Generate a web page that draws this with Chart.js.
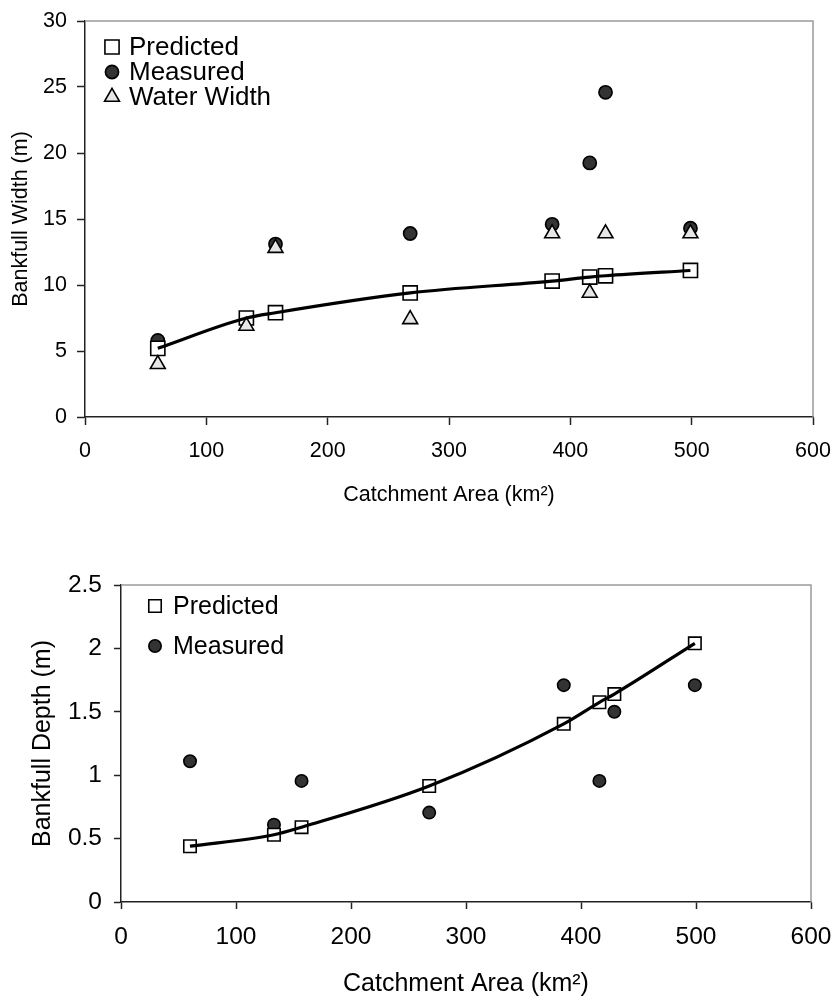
<!DOCTYPE html>
<html>
<head>
<meta charset="utf-8">
<script src="https://cdn.jsdelivr.net/npm/chart.js@4.4.1/dist/chart.umd.min.js"></script>
<style>
  body { margin: 0; background: #fff; }
  #wrap { position: relative; width: 835px; height: 997px; }
  .box { position: absolute; left: 0; width: 835px; }
  #topBox { top: 0; height: 510px; }
  #botBox { top: 510px; height: 487px; }
</style>
</head>
<body>
<div id="wrap">
  <div class="box" id="topBox"><canvas id="widthChart"></canvas></div>
  <div class="box" id="botBox"><canvas id="depthChart"></canvas></div>
</div>
<script>
// --- data ---
const areaKm2 = [60, 133, 157, 268, 385, 416, 429, 499];
const widthPredicted = [5.2, 7.5, 7.9, 9.4, 10.3, 10.6, 10.7, 11.1];
const widthMeasured = [5.8, 7.3, 13.1, 13.9, 14.6, 19.25, 24.6, 14.3];
const waterWidth = [4.0, 6.9, 12.8, 7.4, 13.9, 9.4, 13.9, 13.9];
const depthPredicted = [0.44, 0.53, 0.59, 0.915, 1.405, 1.575, 1.64, 2.04];
const depthMeasured = [1.11, 0.61, 0.955, 0.705, 1.71, 0.955, 1.5, 1.71];

const areaTicks = [0, 100, 200, 300, 400, 500, 600];
const widthTicks = [0, 5, 10, 15, 20, 25, 30];
const depthTicks = [0, 0.5, 1, 1.5, 2, 2.5];

const FONT = "'Liberation Sans', Arial, sans-serif";

function pts(xs, ys) {
    return xs.map((x, i) => ({ x: x, y: ys[i] }));
}

// gray frame on top and right of the plot area
const frame = {
    id: 'frame',
    beforeDatasetsDraw(chart) {
        const { ctx, chartArea: a } = chart;
        ctx.save();
        ctx.strokeStyle = '#9a9a9a';
        ctx.lineWidth = 1.5;
        ctx.beginPath();
        ctx.moveTo(a.left, a.top);
        ctx.lineTo(a.right, a.top);
        ctx.lineTo(a.right, a.bottom);
        ctx.stroke();
        ctx.restore();
    }
};

// legend drawn inside the plot, top left
const insideLegend = {
    id: 'insideLegend',
    afterDatasetsDraw(chart, args, opts) {
        const ctx = chart.ctx;
        ctx.save();
        let y = opts.y;
        chart.data.datasets.forEach(ds => {
            if (!ds.label) return;
            ctx.fillStyle = ds.pointBackgroundColor;
            ctx.strokeStyle = ds.pointBorderColor;
            ctx.lineWidth = ds.pointBorderWidth;
            Chart.helpers.drawPoint(ctx, {
                pointStyle: ds.pointStyle,
                radius: ds.pointRadius,
                borderWidth: ds.pointBorderWidth,
                rotation: 0
            }, opts.x, y);
            ctx.fillStyle = '#000';
            ctx.font = opts.size + 'px ' + FONT;
            ctx.textBaseline = 'middle';
            ctx.textAlign = 'left';
            ctx.fillText(ds.label, opts.textX, y + 1);
            y += opts.gap;
        });
        ctx.restore();
    }
};

function axis(ticks, size, titleSize, tickLen, pad, title, titlePad, fit) {
    return {
        type: 'linear',
        min: ticks[0],
        max: ticks[ticks.length - 1],
        afterBuildTicks: s => { s.ticks = ticks.map(v => ({ value: v })); },
        afterFit: s => {
            fit(s);
            s.paddingLeft = 0;
            s.paddingRight = 0;
            s.paddingTop = 0;
            s.paddingBottom = 0;
        },
        grid: { display: true, drawOnChartArea: false, drawTicks: true, tickLength: tickLen, tickColor: '#222', tickWidth: 1.5 },
        border: { color: '#222', width: 1.5 },
        ticks: { padding: pad, color: '#000', font: { family: FONT, size: size }, maxRotation: 0, autoSkip: false, callback: v => String(v) },
        title: { display: true, text: title, color: '#000', font: { family: FONT, size: titleSize }, padding: titlePad }
    };
}

function lineSet(data) {
    return {
        label: '',
        data: data,
        showLine: true,
        borderColor: '#000',
        borderWidth: 3.2,
        pointRadius: 0,
        cubicInterpolationMode: 'monotone',
        order: 0
    };
}

function markerSet(label, data, style, fill, radius, order) {
    return {
        label: label,
        data: data,
        pointStyle: style,
        pointRadius: radius,
        pointHoverRadius: radius,
        pointBackgroundColor: fill,
        pointBorderColor: '#000',
        pointBorderWidth: 1.6,
        showLine: false,
        order: order
    };
}

// 1. Bankfull width
new Chart(document.getElementById('widthChart'), {
    type: 'scatter',
    data: {
        datasets: [
            lineSet(pts(areaKm2, widthPredicted)),
            markerSet('Predicted', pts(areaKm2, widthPredicted), 'rect', '#ffffff', 10, 2),
            markerSet('Measured', pts(areaKm2, widthMeasured), 'circle', '#333333', 6.6, 3),
            markerSet('Water Width', pts(areaKm2, waterWidth), 'triangle', '#e6e6e6', 8.6, 1)
        ]
    },
    options: {
        responsive: true,
        maintainAspectRatio: false,
        animation: false,
        layout: { padding: { top: 21, right: 22, left: 0, bottom: 0 } },
        scales: {
            x: axis(areaTicks, 21.5, 21.5, 8, 13, 'Catchment Area (km²)', { top: 4, bottom: 2 }, s => { s.height = 93; }),
            y: axis(widthTicks, 21.5, 21.5, 8, 10, 'Bankfull Width (m)', { top: 8, bottom: 4 }, s => { s.width = 85; })
        },
        plugins: {
            legend: { display: false },
            tooltip: { enabled: false },
            insideLegend: { x: 112, textX: 129, y: 47, gap: 25, size: 26 }
        }
    },
    plugins: [frame, insideLegend]
});

// 2. Bankfull depth
new Chart(document.getElementById('depthChart'), {
    type: 'scatter',
    data: {
        datasets: [
            lineSet(pts(areaKm2, depthPredicted)),
            markerSet('Predicted', pts(areaKm2, depthPredicted), 'rect', '#ffffff', 8.8, 1),
            markerSet('Measured', pts(areaKm2, depthMeasured), 'circle', '#333333', 6.2, 2)
        ]
    },
    options: {
        responsive: true,
        maintainAspectRatio: false,
        animation: false,
        layout: { padding: { top: 75, right: 24, left: 0, bottom: 0 } },
        scales: {
            x: axis(areaTicks, 24.5, 25, 7, 14, 'Catchment Area (km²)', { top: 4, bottom: -2 }, s => { s.height = 95; }),
            y: axis(depthTicks, 24.5, 25, 7, 12, 'Bankfull Depth (m)', { top: 28, bottom: 4 }, s => { s.width = 121; })
        },
        plugins: {
            legend: { display: false },
            tooltip: { enabled: false },
            insideLegend: { x: 155, textX: 173, y: 96, gap: 40, size: 25 }
        }
    },
    plugins: [frame, insideLegend]
});
</script>
</body>
</html>
